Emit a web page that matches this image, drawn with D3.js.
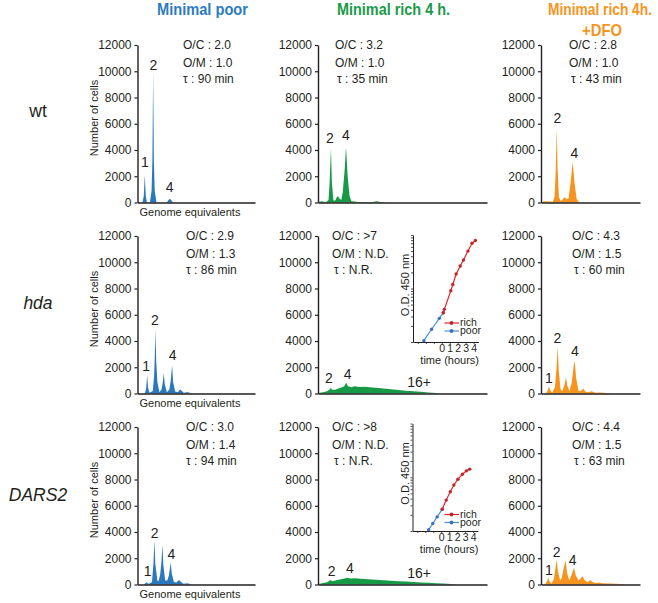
<!DOCTYPE html>
<html>
<head>
<meta charset="utf-8">
<script src="https://cdn.jsdelivr.net/npm/d3@7"></script>
<style>
body { margin: 0; background: #fff; }
text { font-family: "Liberation Sans", Arial, sans-serif; fill: #231f20; }
</style>
</head>
<body>
<div id="chart"></div>
<script>
// column / row names
var conditions = ["Minimal poor", "Minimal rich 4 h.", "Minimal rich 4h."];
var conditionLine2 = ["", "", "+DFO"];
var strains = ["wt", "hda", "DARS2"];
var yTicks = [0, 2000, 4000, 6000, 8000, 10000, 12000];

// O/C, O/M, tau per panel [row][col]
var statOC = [["2.0", "3.2", "2.8"], ["2.9", ">7", "4.3"], ["3.0", ">8", "4.4"]];
var statOM = [["1.0", "1.0", "1.0"], ["1.3", "N.D.", "1.5"], ["1.4", "N.D.", "1.5"]];
var statTau = [["90 min", "35 min", "43 min"], ["86 min", "N.R.", "60 min"], ["94 min", "N.R.", "63 min"]];

// histograms: [genome equivalents, number of cells]
var histWtPoor = [[0,0],[0.6,0],[0.76,500],[0.88,2100],[1.0,500],[1.15,0],[1.5,0],[1.7,900],[1.8,3200],[1.89,9900],[1.98,3200],[2.08,900],[2.3,0],[3.55,0],[3.75,200],[3.9,280],[4.05,200],[4.3,0],[14.2,0]];
var histHdaPoor = [[0,0],[0.9,0],[1.05,400],[1.17,1390],[1.29,400],[1.45,50],[1.85,200],[2.0,1300],[2.1,3000],[2.17,4940],[2.26,2500],[2.4,900],[2.65,100],[2.9,300],[3.05,800],[3.17,1570],[3.3,700],[3.55,100],[3.85,300],[4.0,900],[4.18,2150],[4.3,900],[4.55,150],[4.9,100],[5.05,250],[5.18,300],[5.35,200],[5.6,50],[6.0,100],[6.14,100],[6.3,60],[6.6,0],[14.2,0]];
var histDarsPoor = [[0,0],[0.8,0],[0.95,100],[1.08,180],[1.2,100],[1.4,50],[1.75,200],[1.92,1500],[2.05,3365],[2.15,1600],[2.4,300],[2.55,250],[2.75,800],[2.9,1800],[3.01,3040],[3.12,1500],[3.35,300],[3.6,300],[3.8,700],[4.01,1650],[4.15,800],[4.4,200],[4.7,150],[4.9,280],[5.06,330],[5.25,200],[5.55,50],[5.85,80],[6.02,100],[6.25,50],[6.6,0],[14.2,0]];
var histWtRich = [[0.3,0],[0.5,60],[0.8,100],[1.1,60],[1.4,40],[1.7,200],[1.85,1500],[2.03,4180],[2.15,1500],[2.35,150],[2.6,150],[2.8,400],[2.96,480],[3.15,300],[3.4,200],[3.6,800],[3.85,2500],[4.03,4230],[4.25,2000],[4.5,500],[4.75,100],[5.2,80],[5.6,40],[6.5,30],[7.6,40],[8.1,100],[8.6,30],[9.5,0],[22.8,0]];
var histHdaRich = [[0.3,0],[0.5,50],[1.0,100],[1.5,180],[1.85,300],[2.0,420],[2.2,280],[2.6,280],[3.0,380],[3.4,450],[3.8,560],[4.05,820],[4.3,550],[4.7,480],[5.2,560],[5.8,500],[6.5,520],[7.2,480],[8.0,430],[9.0,380],[10.0,320],[11.0,260],[12.0,210],[13.0,170],[14.0,130],[15.0,80],[16.0,30],[16.5,0],[22.8,0]];
var histDarsRich = [[0.3,0],[0.5,60],[1.0,120],[1.5,180],[1.8,260],[1.95,340],[2.2,250],[2.6,300],[3.2,380],[3.7,440],[4.2,520],[4.6,460],[5.2,470],[6.0,440],[7.0,400],[8.0,360],[9.0,320],[10.0,280],[11.0,250],[12.0,220],[13.0,190],[14.0,160],[15.0,130],[16.0,100],[17.0,70],[18.0,40],[19.0,0],[22.8,0]];
var histWtDfo = [[0,0],[0.3,80],[0.7,100],[1.1,80],[1.5,60],[1.7,500],[1.85,2500],[1.97,5680],[2.08,2500],[2.25,400],[2.5,100],[2.8,300],[3.0,400],[3.2,250],[3.45,300],[3.7,1500],[3.97,3080],[4.2,1500],[4.45,300],[4.7,50],[5.0,0],[12.4,0]];
var histHdaDfo = [[0,0],[0.6,0],[0.85,250],[1.0,555],[1.15,250],[1.4,50],[1.75,500],[1.95,2000],[2.09,3590],[2.22,1800],[2.45,300],[2.7,200],[2.95,700],[3.13,1240],[3.3,600],[3.55,200],[3.85,800],[4.05,1900],[4.22,2500],[4.4,1200],[4.7,200],[5.0,200],[5.3,380],[5.55,150],[5.9,100],[6.35,180],[6.7,80],[7.0,60],[7.4,80],[7.8,50],[8.3,40],[8.9,0],[12.4,0]];
var histDarsDfo = [[0,0],[0.5,0],[0.75,250],[0.91,510],[1.05,250],[1.3,50],[1.6,400],[1.8,1200],[1.97,1900],[2.12,1000],[2.4,300],[2.6,500],[2.85,1300],[3.1,1850],[3.25,900],[3.55,300],[3.8,700],[4.14,1270],[4.35,700],[4.7,300],[4.95,450],[5.2,630],[5.45,350],[5.8,200],[6.2,330],[6.5,180],[6.9,120],[7.3,150],[7.7,100],[8.5,80],[9.5,50],[10.7,0],[12.4,0]];

// peak labels: [text, genome equivalents, count at label baseline]
var peaksWtPoor = [["1",0.88,2675],["2",1.93,10090],["4",3.9,764]];
var peaksHdaPoor = [["1",1.05,1690],["2",2.1,5240],["4",4.25,2580]];
var peaksDarsPoor = [["1",1.24,630],["2",2.08,3550],["4",4.1,1975]];
var peaksWtRich = [["2",1.9,4530],["4",4.0,4790]];
var peaksHdaRich = [["2",1.76,810],["4",4.25,1115],["16+",13.75,480]];
var peaksDarsRich = [["2",2.12,630],["4",4.56,885],["16+",13.75,510]];
var peaksWtDfo = [["2",2.04,6090],["4",4.17,3415]];
var peaksHdaDfo = [["1",1.0,810],["2",2.04,3850],["4",4.26,2835]];
var peaksDarsDfo = [["1",1.0,760],["2",1.97,2100],["4",3.97,1465]];

// growth curves in the insets: [time (hours), O.D. 450 nm]
var growthHdaPoor = [[-2.24,0.0106],[-1.27,0.0173],[-0.3,0.0277],[0.2,0.0353]];
var growthHdaRich = [[0.2,0.0353],[0.33,0.0408],[1.14,0.0908],[1.39,0.119],[1.81,0.187],[2.32,0.263],[2.73,0.34],[3.29,0.50],[3.8,0.70],[4.22,0.79]];
var growthDarsPoor = [[-1.57,0.0106],[-1.06,0.0138],[-0.51,0.0183],[0.13,0.0255]];
var growthDarsRich = [[0.13,0.0255],[0.63,0.0376],[1.14,0.0538],[1.59,0.0719],[2.1,0.0919],[2.66,0.114],[3.16,0.1315],[3.58,0.1416]];
var timeTicks = [-3, -2, -1, 0, 1, 2, 3, 4];
var timeLabels = [0, 1, 2, 3, 4];
var odTicks = [0.01,0.02,0.03,0.04,0.05,0.06,0.07,0.08,0.09,0.1,0.2,0.3,0.4,0.5,0.6,0.7,0.8,0.9,1];

var hists = [[histWtPoor, histWtRich, histWtDfo], [histHdaPoor, histHdaRich, histHdaDfo], [histDarsPoor, histDarsRich, histDarsDfo]];
var peaks = [[peaksWtPoor, peaksWtRich, peaksWtDfo], [peaksHdaPoor, peaksHdaRich, peaksHdaDfo], [peaksDarsPoor, peaksDarsRich, peaksDarsDfo]];

// layout
var W = 658, H = 603;
var colX = [137.5, 318, 541];
var colEnd = [255, 487, 640];
var colDomain = [[0, 14.2], [0.3, 22.8], [0, 12.4]];
var rowTop = [45, 236, 427];
var panelH = 157.5;
var colColor = ["#2a79bd", "#179a45", "#f7941d"];
var headColor = ["#2b7cc0", "#1a9a48", "#f7941d"];
var statX = [[183, 335, 569], [186, 332, 572], [186, 332, 572]];
var headX = [202.5, 393.5, 600];
var headW = [91, 113, 104];

var svg = d3.select("#chart").append("svg")
    .attr("width", W)
    .attr("height", H);

// column headers: bold text squeezed horizontally to a narrow face
function header(txt, cx, cy, w, color) {
  var t = svg.append("text")
     .attr("text-anchor", "middle")
     .style("font-weight", "bold").style("font-size", "16.5px")
     .style("fill", color)
     .text(txt);
  var nat = t.node().getComputedTextLength();
  t.attr("transform", "translate(" + cx + "," + cy + ") scale(" + (w / nat) + ",1)");
}
conditions.forEach(function(c, i) {
  header(c, headX[i], 15, headW[i], headColor[i]);
  if (conditionLine2[i]) header(conditionLine2[i], 602, 36, 40, headColor[i]);
});

// row labels
var rowBase = [117, 309, 501];
strains.forEach(function(s, r) {
  svg.append("text")
     .attr("x", 38).attr("y", rowBase[r])
     .attr("text-anchor", "middle")
     .style("font-size", "17.5px")
     .style("font-style", r === 0 ? "normal" : "italic")
     .text(s);
});

var area = d3.area().curve(d3.curveLinear);

for (var r = 0; r < 3; r++) {
  for (var c = 0; c < 3; c++) {
    var x = d3.scaleLinear().domain(colDomain[c]).range([colX[c], colEnd[c]]);
    var y = d3.scaleLinear().domain([0, 12000]).range([rowTop[r] + panelH, rowTop[r]]);
    var g = svg.append("g");

    area.x(function(d) { return x(d[0]); })
        .y0(y(0))
        .y1(function(d) { return y(d[1]); });

    g.append("path")
     .datum(hists[r][c])
     .attr("d", area)
     .attr("fill", colColor[c]);

    // axes
    var yAxis = g.append("g")
     .attr("transform", "translate(" + colX[c] + ",0)")
     .call(d3.axisLeft(y).tickValues(yTicks).tickFormat(d3.format("d"))
       .tickSize(3).tickSizeOuter(0).tickPadding(3));
    var xAxis = g.append("g")
     .attr("transform", "translate(0," + y(0) + ")")
     .call(d3.axisBottom(x).tickValues([]).tickSizeOuter(0));
    [yAxis, xAxis].forEach(function(a) {
      a.select(".domain").attr("stroke", "#231f20").attr("stroke-width", 1.4);
      a.selectAll(".tick line").attr("stroke", "#231f20").attr("stroke-width", 1.2);
      a.selectAll("text").style("font-size", "12px").style("font-family", '"Liberation Sans", Arial, sans-serif').attr("fill", "#231f20");
    });

    // peak labels
    g.selectAll(".pk").data(peaks[r][c]).enter().append("text")
     .attr("x", function(d) { return x(d[1]); })
     .attr("y", function(d) { return y(d[2]); })
     .attr("text-anchor", "middle")
     .style("font-size", "14px")
     .text(function(d) { return d[0]; });

    // stats
    var sx = statX[r][c], t0 = rowTop[r];
    g.append("text").attr("x", sx).attr("y", t0 + 4).style("font-size", "12px").text("O/C : " + statOC[r][c]);
    g.append("text").attr("x", sx).attr("y", t0 + 21.5).style("font-size", "12px").text("O/M : " + statOM[r][c]);
    g.append("text").attr("x", sx + (c === 0 ? 0 : 2)).attr("y", t0 + 37.5).style("font-size", "12px").text("\u03c4 : " + statTau[r][c]);

    if (c === 0) {
      g.append("text")
       .attr("transform", "translate(98," + (rowTop[r] + 73) + ") rotate(-90)")
       .attr("text-anchor", "middle")
       .style("font-size", "11px")
       .text("Number of cells");
      g.append("text")
       .attr("x", colX[c] + 2).attr("y", y(0) + 13.5)
       .style("font-size", "11px")
       .text("Genome equivalents");
    }
  }
}

// insets with growth curves
var insets = [
  {x0: 413, y0: 235, y1: 342, legend: [323, 331], poor: growthHdaPoor, rich: growthHdaRich},
  {x0: 412.5, y0: 423.5, y1: 531, legend: [514.5, 522.5], poor: growthDarsPoor, rich: growthDarsRich}
];
var richColor = "#e5262a", richDot = "#c0272d", poorColor = "#4d8fd8", poorDot = "#3b70c0";

insets.forEach(function(ins) {
  var g = svg.append("g");
  var xt = d3.scaleLinear().domain([-3.6, 4.6]).range([ins.x0, ins.x0 + 65.4]);
  var yo = d3.scaleLog().domain([0.01, 1]).range([ins.y1, ins.y0]);

  var ya = g.append("g").attr("transform", "translate(" + ins.x0 + ",0)")
    .call(d3.axisLeft(yo).tickValues(odTicks).tickSize(2).tickSizeOuter(0).tickFormat(""));
  var xa = g.append("g").attr("transform", "translate(0," + ins.y1 + ")")
    .call(d3.axisBottom(xt).tickValues(timeTicks).tickSize(2).tickSizeOuter(0).tickPadding(1)
      .tickFormat(function(d) { return timeLabels.indexOf(d) >= 0 ? d : ""; }));
  [ya, xa].forEach(function(a) {
    a.select(".domain").attr("stroke", "#231f20").attr("stroke-width", 1);
    a.selectAll(".tick line").attr("stroke", "#231f20").attr("stroke-width", 0.8);
    a.selectAll("text").style("font-size", "10.5px").style("font-family", '"Liberation Sans", Arial, sans-serif').attr("fill", "#231f20");
  });

  var line = d3.line().x(function(d) { return xt(d[0]); }).y(function(d) { return yo(d[1]); });
  [[ins.poor, poorColor, poorDot], [ins.rich, richColor, richDot]].forEach(function(s) {
    g.append("path").datum(s[0]).attr("d", line)
     .attr("fill", "none").attr("stroke", s[1]).attr("stroke-width", 1.2);
    g.selectAll(null).data(s[0]).enter().append("circle")
     .attr("cx", function(d) { return xt(d[0]); })
     .attr("cy", function(d) { return yo(d[1]); })
     .attr("r", 1.7).attr("fill", s[2]);
  });

  g.append("text")
   .attr("transform", "translate(" + (ins.x0 - 4) + "," + (ins.y0 + 50) + ") rotate(-90)")
   .attr("text-anchor", "middle")
   .style("font-size", "11px")
   .text("O.D. 450 nm");
  g.append("text")
   .attr("x", xt(1)).attr("y", ins.y1 + 22)
   .attr("text-anchor", "middle")
   .style("font-size", "11px")
   .text("time (hours)");

  // legend
  [["rich", richColor, richDot], ["poor", poorColor, poorDot]].forEach(function(l, i) {
    var ly = ins.legend[i];
    g.append("line").attr("x1", 444.5).attr("x2", 459).attr("y1", ly).attr("y2", ly)
     .attr("stroke", l[1]).attr("stroke-width", 1.2);
    g.append("circle").attr("cx", 451.5).attr("cy", ly).attr("r", 1.9).attr("fill", l[2]);
    g.append("text").attr("x", 460).attr("y", ly + 3.3)
     .style("font-size", "10.5px")
     .text(l[0]);
  });
});
</script>
</body>
</html>
